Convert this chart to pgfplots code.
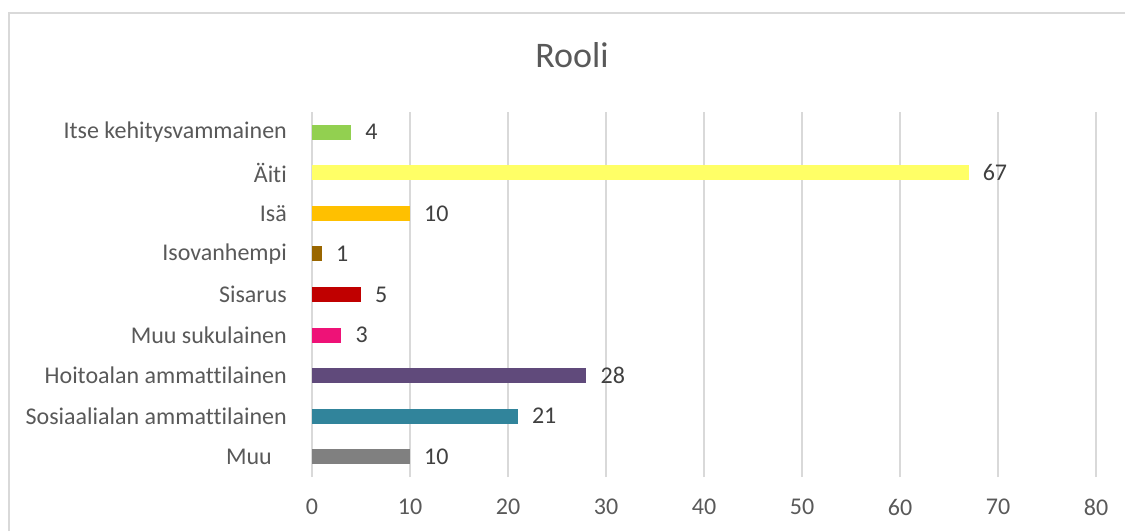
\documentclass[border=0pt]{standalone}
\usepackage{fontspec}
\setmainfont{Carlito}[Ligatures={NoCommon}]
\usepackage{pgfplots}
\pgfplotsset{compat=1.18}

\definecolor{gridgray}{HTML}{D9D9D9}
\definecolor{labelgray}{HTML}{595959}
\definecolor{valgray}{HTML}{404040}
\definecolor{cGreen}{HTML}{92D050}
\definecolor{cYellow}{HTML}{FFFF66}
\definecolor{cGold}{HTML}{FFC000}
\definecolor{cBrown}{HTML}{996600}
\definecolor{cRed}{HTML}{C00000}
\definecolor{cPink}{HTML}{EE1277}
\definecolor{cPurple}{HTML}{604A7B}
\definecolor{cTeal}{HTML}{31849B}
\definecolor{cGray}{HTML}{808080}

\begin{document}
\begin{tikzpicture}[x=1pt,y=1pt]
\useasboundingbox (0,0) rectangle (1125,531);
% chart frame (cut off at right and bottom)
\draw[gridgray, line width=1.2pt] (9,0) -- (9,518) -- (1125,518);
\node[anchor=base, inner sep=0pt, font=\fontsize{36}{40}\selectfont, text=labelgray] at (572,463) {Rooli};

\begin{axis}[
    at={(312pt,54pt)}, anchor=south west,
    scale only axis, width=784pt, height=365pt,
    xmin=0, xmax=80, ymin=-0.5, ymax=8.5,
    xtick={0,10,...,80}, ytick={0,1,...,8},
    yticklabels={Muu\rule{15pt}{0pt}, Sosiaalialan ammattilainen, Hoitoalan ammattilainen,
                 Muu sukulainen, Sisarus, Isovanhempi, Isä, Äiti, Itse kehitysvammainen},
    axis x line*=bottom, axis y line*=left,
    x axis line style={draw=none},
    y axis line style={gridgray, line width=1.2pt, -},
    xmajorgrids, major grid style={gridgray, line width=1.2pt},
    major tick length=0pt, tick style={draw=none},
    /pgf/number format/assume math mode=true,
    tick label style={font=\fontsize{24}{28}\selectfont, text=labelgray, inner sep=0pt},
    xticklabel style={anchor=north, yshift=-22pt},
    yticklabel style={anchor=east, xshift=-25pt},
    xbar, bar width=15pt, bar shift=0pt,
    nodes near coords,
    nodes near coords style={anchor=west, inner sep=0pt, xshift=14pt,
                             font=\fontsize{24}{28}\selectfont, text=valgray},
    clip=false,
]
\addplot[fill=cGreen, draw=none] coordinates {(4,8)};
\addplot[fill=cYellow, draw=none] coordinates {(67,7)};
\addplot[fill=cGold, draw=none] coordinates {(10,6)};
\addplot[fill=cBrown, draw=none] coordinates {(1,5)};
\addplot[fill=cRed, draw=none] coordinates {(5,4)};
\addplot[fill=cPink, draw=none] coordinates {(3,3)};
\addplot[fill=cPurple, draw=none] coordinates {(28,2)};
\addplot[fill=cTeal, draw=none] coordinates {(21,1)};
\addplot[fill=cGray, draw=none] coordinates {(10,0)};
\end{axis}
\end{tikzpicture}
\end{document}
